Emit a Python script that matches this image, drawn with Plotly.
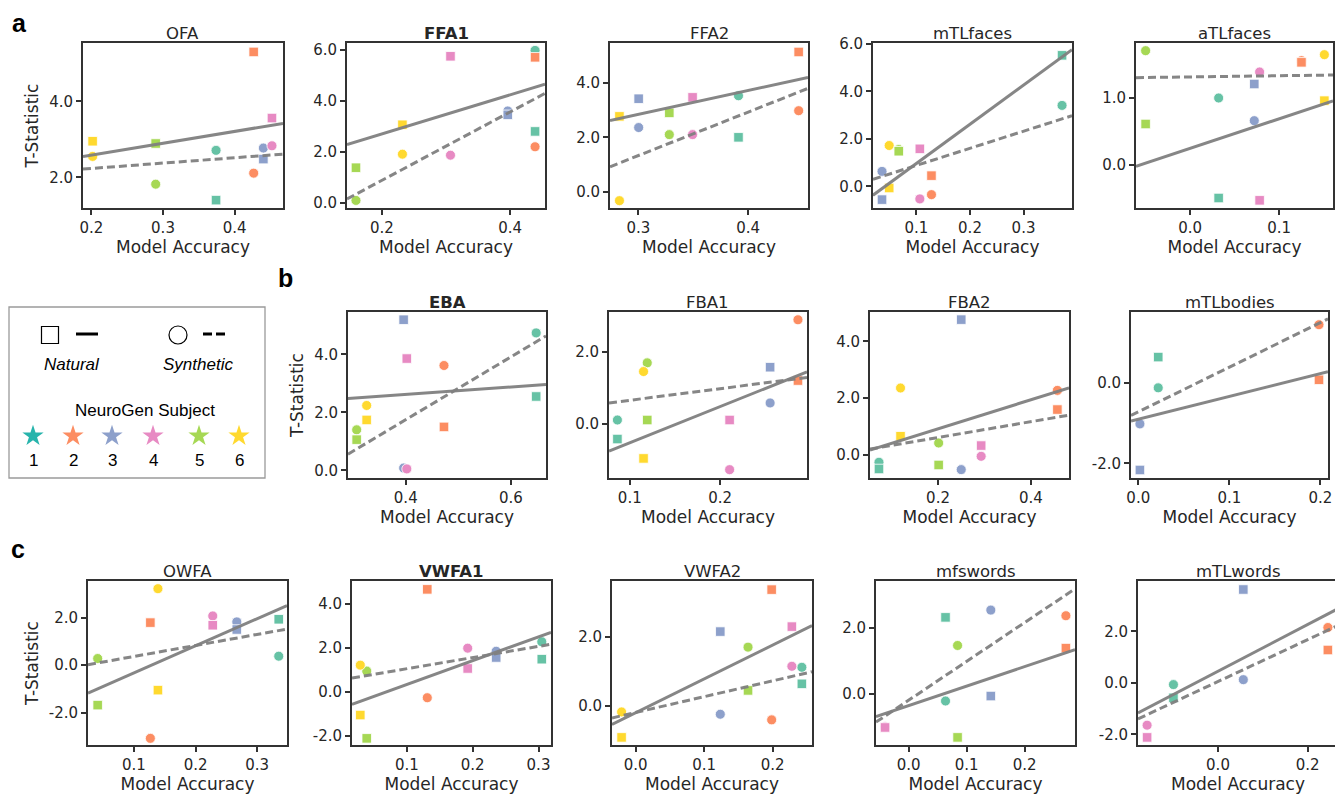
import numpy as np
import plotly.graph_objects as go

# target canvas (pixels of the page); the html body has an 8px margin
PAGE_W, PAGE_H = 1343, 794
OFF = 8
W, H = PAGE_W - OFF, PAGE_H - OFF

SUBJECT_COLORS = ["#66c2a5", "#fc8d62", "#8da0cb", "#e78ac3", "#a6d854", "#ffd92f"]
STAR_COLORS = ["#27b4ac", "#fc8d62", "#8da0cb", "#e78ac3", "#a6d854", "#ffd92f"]
SUBJECTS = ["1", "2", "3", "4", "5", "6"]

# ---- data: model accuracy per subject, T-statistic for natural / synthetic ----
OFA_acc = [0.374, 0.4265, 0.440, 0.452, 0.2898, 0.2018]
OFA_nat = [1.40, 5.30, 2.48, 3.56, 2.89, 2.95]
OFA_syn = [2.71, 2.11, 2.77, 2.83, 1.82, 2.55]

FFA1_acc = [0.439, 0.439, 0.3964, 0.307, 0.1595, 0.232]
FFA1_nat = [2.80, 5.70, 3.45, 5.74, 1.38, 3.06]
FFA1_syn = [5.97, 2.20, 3.60, 1.87, 0.10, 1.91]

FFA2_acc = [0.3912, 0.446, 0.3003, 0.3494, 0.3282, 0.2828]
FFA2_nat = [2.00, 5.14, 3.42, 3.47, 2.90, 2.77]
FFA2_syn = [3.53, 2.98, 2.36, 2.10, 2.10, -0.33]

mTLfaces_acc = [0.372, 0.128, 0.0356, 0.1063, 0.0669, 0.049]
mTLfaces_nat = [5.52, 0.45, -0.56, 1.58, 1.48, -0.07]
mTLfaces_syn = [3.41, -0.35, 0.63, -0.53, 1.55, 1.72]

aTLfaces_acc = [0.032, 0.125, 0.072, 0.078, -0.050, 0.1507]
aTLfaces_nat = [-0.50, 1.535, 1.21, -0.535, 0.61, 0.96]
aTLfaces_syn = [1.00, 1.56, 0.66, 1.39, 1.71, 1.65]

EBA_acc = [0.648, 0.4727, 0.396, 0.402, 0.3067, 0.3257]
EBA_nat = [2.55, 1.50, 5.20, 3.86, 1.06, 1.74]
EBA_syn = [4.745, 3.62, 0.08, 0.05, 1.40, 2.24]

FBA1_acc = [0.0863, 0.286, 0.2552, 0.2104, 0.1193, 0.1152]
FBA1_nat = [-0.415, 1.198, 1.567, 0.11, 0.11, -0.95]
FBA1_syn = [0.11, 2.876, 0.58, -1.26, 1.687, 1.447]

FBA2_acc = [0.0729, 0.457, 0.25, 0.2929, 0.2014, 0.1193]
FBA2_nat = [-0.507, 1.593, 4.77, 0.32, -0.366, 0.65]
FBA2_syn = [-0.27, 2.27, -0.53, -0.06, 0.41, 2.354]

mTLbodies_acc = [0.0219, 0.1985, 0.0018, None, None, None]
mTLbodies_nat = [0.65, 0.083, -2.167, None, None, None]
mTLbodies_syn = [-0.117, 1.458, -1.017, None, None, None]

OWFA_acc = [0.3349, 0.1267, 0.2669, 0.2279, 0.0413, 0.139]
OWFA_nat = [1.93, 1.79, 1.50, 1.68, -1.68, -1.05]
OWFA_syn = [0.378, -3.077, 1.82, 2.07, 0.28, 3.217]

VWFA1_acc = [0.305, 0.131, 0.2357, 0.1924, 0.039, 0.0292]
VWFA1_nat = [1.48, 4.65, 1.556, 1.057, -2.115, -1.057]
VWFA1_syn = [2.27, -0.27, 1.84, 1.98, 0.94, 1.21]

VWFA2_acc = [0.2426, 0.1985, 0.1235, 0.228, 0.164, -0.0206]
VWFA2_nat = [0.638, 3.352, 2.143, 2.286, 0.448, -0.905]
VWFA2_syn = [1.114, -0.40, -0.238, 1.143, 1.695, -0.171]

mfswords_acc = [0.0635, 0.2713, 0.1417, -0.0409, 0.0843, None]
mfswords_nat = [2.31, 1.38, -0.07, -1.02, -1.32, None]
mfswords_syn = [-0.22, 2.36, 2.53, -1.00, 1.46, None]

mTLwords_acc = [-0.0994, 0.2452, 0.0565, -0.1582, None, None]
mTLwords_nat = [-0.577, 1.28, 3.63, -2.115, None, None]
mTLwords_syn = [-0.064, 2.154, 0.128, -1.64, None, None]

# ---- panel configuration (page pixel boxes) ----
ROW_A = (43, 208)
ROW_B = (312, 478)
ROW_C = (581, 745)

panels = [
    dict(name="OFA", bold=False, acc=OFA_acc, nat=OFA_nat, syn=OFA_syn,
         xr=[0.1884, 0.4674], yr=[1.193, 5.535], xt=[0.2, 0.3, 0.4], yt=[2.0, 4.0],
         px=(83, 283), py=ROW_A, ytitle=True),
    dict(name="FFA1", bold=True, acc=FFA1_acc, nat=FFA1_nat, syn=FFA1_syn,
         xr=[0.1455, 0.4545], yr=[-0.196, 6.26], xt=[0.2, 0.4], yt=[0.0, 2.0, 4.0, 6.0],
         px=(347, 545), py=ROW_A, ytitle=False),
    dict(name="FFA2", bold=False, acc=FFA2_acc, nat=FFA2_nat, syn=FFA2_syn,
         xr=[0.2742, 0.4545], yr=[-0.60, 5.47], xt=[0.3, 0.4], yt=[0.0, 2.0, 4.0],
         px=(610, 808), py=ROW_A, ytitle=False),
    dict(name="mTLfaces", bold=False, acc=mTLfaces_acc, nat=mTLfaces_nat, syn=mTLfaces_syn,
         xr=[0.01875, 0.3906], yr=[-0.913, 6.04], xt=[0.1, 0.2, 0.3], yt=[0.0, 2.0, 4.0, 6.0],
         px=(873, 1072), py=ROW_A, ytitle=False),
    dict(name="aTLfaces", bold=False, acc=aTLfaces_acc, nat=aTLfaces_nat, syn=aTLfaces_syn,
         xr=[-0.0608, 0.1604], yr=[-0.65, 1.825], xt=[0.0, 0.1], yt=[0.0, 1.0],
         px=(1136, 1333), py=ROW_A, ytitle=False),
    dict(name="EBA", bold=True, acc=EBA_acc, nat=EBA_nat, syn=EBA_syn,
         xr=[0.2902, 0.6667], yr=[-0.264, 5.467], xt=[0.4, 0.6], yt=[0.0, 2.0, 4.0],
         px=(348, 546), py=ROW_B, ytitle=True),
    dict(name="FBA1", bold=False, acc=FBA1_acc, nat=FBA1_nat, syn=FBA1_syn,
         xr=[0.077, 0.296], yr=[-1.49, 3.09], xt=[0.1, 0.2], yt=[0.0, 2.0],
         px=(609, 807), py=ROW_B, ytitle=False),
    dict(name="FBA2", bold=False, acc=FBA2_acc, nat=FBA2_nat, syn=FBA2_syn,
         xr=[0.0536, 0.482], yr=[-0.826, 5.04], xt=[0.2, 0.4], yt=[0.0, 2.0, 4.0],
         px=(870, 1069), py=ROW_B, ytitle=False),
    dict(name="mTLbodies", bold=False, acc=mTLbodies_acc, nat=mTLbodies_nat, syn=mTLbodies_syn,
         xr=[-0.008, 0.2084], yr=[-2.367, 1.775], xt=[0.0, 0.1, 0.2], yt=[-2.0, 0.0],
         px=(1131, 1328), py=ROW_B, ytitle=False),
    dict(name="OWFA", bold=False, acc=OWFA_acc, nat=OWFA_nat, syn=OWFA_syn,
         xr=[0.0256, 0.3483], yr=[-3.357, 3.54], xt=[0.1, 0.2, 0.3], yt=[-2.0, 0.0, 2.0],
         px=(88, 287), py=ROW_C, ytitle=True),
    dict(name="VWFA1", bold=True, acc=VWFA1_acc, nat=VWFA1_nat, syn=VWFA1_syn,
         xr=[0.0166, 0.319], yr=[-2.417, 5.03], xt=[0.1, 0.2, 0.3], yt=[-2.0, 0.0, 2.0, 4.0],
         px=(352, 551), py=ROW_C, ytitle=False),
    dict(name="VWFA2", bold=False, acc=VWFA2_acc, nat=VWFA2_nat, syn=VWFA2_syn,
         xr=[-0.0346, 0.2574], yr=[-1.124, 3.6], xt=[0.0, 0.1, 0.2], yt=[0.0, 2.0],
         px=(612, 812), py=ROW_C, ytitle=False),
    dict(name="mfswords", bold=False, acc=mfswords_acc, nat=mfswords_nat, syn=mfswords_syn,
         xr=[-0.0565, 0.287], yr=[-1.55, 3.41], xt=[0.0, 0.1, 0.2], yt=[0.0, 2.0],
         px=(876, 1075), py=ROW_C, ytitle=False),
    dict(name="mTLwords", bold=False, acc=mTLwords_acc, nat=mTLwords_nat, syn=mTLwords_syn,
         xr=[-0.1785, 0.2678], yr=[-2.41, 3.96], xt=[0.0, 0.2], yt=[-2.0, 0.0, 2.0],
         px=(1138, 1338), py=ROW_C, ytitle=False),
]

AX_COLOR = "#333333"
TXT_COLOR = "#262626"
LINE_COLOR = "#808080"

fig = go.Figure()
layout = dict(
    width=W, height=H, margin=dict(l=0, r=0, t=0, b=0, pad=0, autoexpand=False),
    paper_bgcolor="white", plot_bgcolor="white", showlegend=False,
    font=dict(family="DejaVu Sans", color=TXT_COLOR),
)
annotations = []
shapes = []


def fx(px):
    return (px - OFF) / W


def fy(py):
    return 1 - (py - OFF) / H


def dom_x(a, b):
    return [fx(a), fx(b)]


def dom_y(top, bot):
    return [fy(bot), fy(top)]


for k, p in enumerate(panels, start=1):
    sfx = "" if k == 1 else str(k)
    xref, yref = "x" + sfx, "y" + sfx
    layout["xaxis" + sfx] = dict(
        domain=dom_x(*p["px"]), range=p["xr"], anchor=yref, automargin=False,
        tickvals=p["xt"], ticktext=[f"{v:.1f}" for v in p["xt"]],
        showline=True, mirror=True, linecolor=AX_COLOR, linewidth=1.8,
        ticks="outside", ticklen=5, tickwidth=1.5, tickcolor=AX_COLOR,
        showgrid=False, zeroline=False, tickfont=dict(size=15, color=TXT_COLOR),
        title=dict(text="Model Accuracy", font=dict(size=17, color=TXT_COLOR), standoff=1),
    )
    layout["yaxis" + sfx] = dict(
        domain=dom_y(*p["py"]), range=p["yr"], anchor=xref, automargin=False,
        tickvals=p["yt"], ticktext=[f"{v:.1f}" for v in p["yt"]],
        showline=True, mirror=True, linecolor=AX_COLOR, linewidth=1.8,
        ticks="outside", ticklen=5, tickwidth=1.5, tickcolor=AX_COLOR,
        showgrid=False, zeroline=False, tickfont=dict(size=15, color=TXT_COLOR),
        title=dict(text="T-Statistic" if p["ytitle"] else "",
                   font=dict(size=17, color=TXT_COLOR), standoff=6),
    )

    idx = [i for i, a in enumerate(p["acc"]) if a is not None]
    xs = np.array([p["acc"][i] for i in idx])
    ys_nat = np.array([p["nat"][i] for i in idx])
    ys_syn = np.array([p["syn"][i] for i in idx])
    cols = [SUBJECT_COLORS[i] for i in idx]

    # synthetic (circles) then natural (squares)
    fig.add_trace(go.Scatter(
        x=xs, y=ys_syn, mode="markers", xaxis=xref, yaxis=yref,
        marker=dict(symbol="circle", size=10, color=cols, line=dict(color="white", width=0.8)),
        hoverinfo="skip"))
    fig.add_trace(go.Scatter(
        x=xs, y=ys_nat, mode="markers", xaxis=xref, yaxis=yref,
        marker=dict(symbol="square", size=9.5, color=cols, line=dict(color="white", width=0.8)),
        hoverinfo="skip"))

    # regression lines spanning the axis
    xline = np.array(p["xr"])
    for ys, dash in ((ys_nat, "solid"), (ys_syn, "8px,4px")):
        slope, icpt = np.polyfit(xs, ys, 1)
        fig.add_trace(go.Scatter(
            x=xline, y=slope * xline + icpt, mode="lines", xaxis=xref, yaxis=yref,
            line=dict(color=LINE_COLOR, width=3, dash=dash), opacity=0.95,
            hoverinfo="skip", cliponaxis=True))

    # panel title
    cx = fx((p["px"][0] + p["px"][1]) / 2)
    annotations.append(dict(
        x=cx, y=fy(p["py"][0]), xref="paper", yref="paper",
        xanchor="center", yanchor="bottom", yshift=-2, showarrow=False,
        text=f"<b>{p['name']}</b>" if p["bold"] else p["name"],
        font=dict(size=16.5, color=TXT_COLOR, family="DejaVu Sans")))

# panel letters
for letter, lx, ly in (("a", 19, 23), ("b", 285, 278), ("c", 18, 549)):
    annotations.append(dict(
        x=fx(lx), y=fy(ly), xref="paper", yref="paper", xanchor="center", yanchor="middle",
        showarrow=False, text=f"<b>{letter}</b>",
        font=dict(size=25, color="black", family="Liberation Sans")))

# ---- custom legend (page-pixel coordinates on a hidden axis) ----
LX0, LX1, LY0, LY1 = 9, 265, 307, 478
k = len(panels) + 1
layout[f"xaxis{k}"] = dict(domain=dom_x(LX0, LX1), range=[LX0, LX1], visible=False,
                           anchor=f"y{k}", fixedrange=True, automargin=False)
layout[f"yaxis{k}"] = dict(domain=dom_y(LY0, LY1), range=[LY1, LY0], visible=False,
                           anchor=f"x{k}", fixedrange=True, automargin=False)
shapes.append(dict(type="rect", xref="paper", yref="paper",
                   x0=fx(LX0), x1=fx(LX1), y0=fy(LY1), y1=fy(LY0),
                   line=dict(color="#9a9a9a", width=1.3), fillcolor="rgba(0,0,0,0)"))

lx, ly = f"x{k}", f"y{k}"
fig.add_trace(go.Scatter(x=[50], y=[335], mode="markers", xaxis=lx, yaxis=ly,
                         marker=dict(symbol="square-open", size=17, color="black", line=dict(width=1.2)),
                         hoverinfo="skip"))
fig.add_trace(go.Scatter(x=[178], y=[335], mode="markers", xaxis=lx, yaxis=ly,
                         marker=dict(symbol="circle-open", size=18, color="black", line=dict(width=1.2)),
                         hoverinfo="skip"))
fig.add_trace(go.Scatter(x=[76, 98], y=[334, 334], mode="lines", xaxis=lx, yaxis=ly,
                         line=dict(color="black", width=3), hoverinfo="skip"))
fig.add_trace(go.Scatter(x=[203, 225], y=[334, 334], mode="lines", xaxis=lx, yaxis=ly,
                         line=dict(color="black", width=3, dash="9px,4px"), hoverinfo="skip"))

star_x = [33, 73, 112, 153, 199, 239]
fig.add_trace(go.Scatter(x=star_x, y=[436] * 6, mode="markers", xaxis=lx, yaxis=ly,
                         marker=dict(symbol="star", size=16, color=STAR_COLORS, line=dict(width=0)),
                         hoverinfo="skip"))
for sx, lab in zip(star_x, SUBJECTS):
    annotations.append(dict(x=sx, y=460, xref=lx, yref=ly, showarrow=False, text=lab,
                            xanchor="center", yanchor="middle",
                            font=dict(size=17, color="black", family="Liberation Sans")))

for txt, tx, ty in (("<i>Natural</i>", 72, 364), ("<i>Synthetic</i>", 198, 364),
                    ("NeuroGen Subject", 145, 410)):
    annotations.append(dict(x=tx, y=ty, xref=lx, yref=ly, showarrow=False, text=txt,
                            xanchor="center", yanchor="middle",
                            font=dict(size=17, color="black", family="Liberation Sans")))

layout["annotations"] = annotations
layout["shapes"] = shapes
fig.update_layout(**layout)
fig.write_html("out.html")
